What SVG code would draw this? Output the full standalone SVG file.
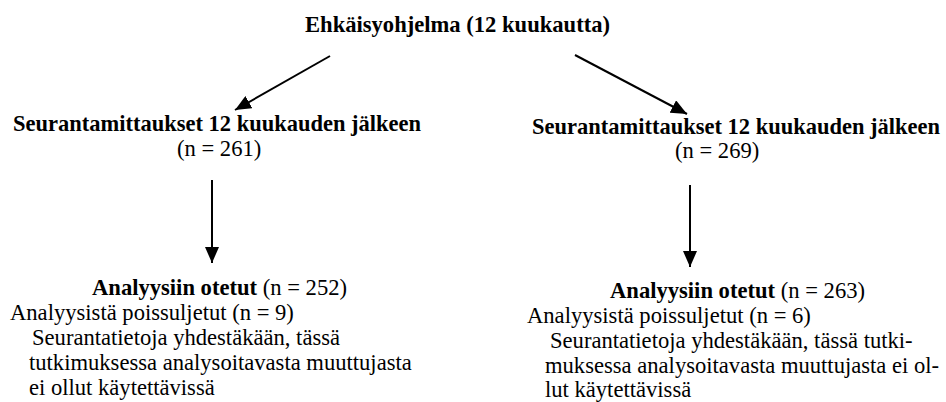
<svg xmlns="http://www.w3.org/2000/svg" width="946" height="402" viewBox="0 0 946 402" font-family="Liberation Serif, DejaVu Serif, serif">
  <style>
    text { font-family: 'Liberation Serif', 'DejaVu Serif', serif; font-size: 22.6px; fill: #000; }
    .b { font-weight: bold; }
    .conn line { stroke: #000; stroke-width: 2; fill: none; marker-end: url(#ah); }
  </style>
  <defs>
    <marker id="ah" markerUnits="userSpaceOnUse" markerWidth="16" markerHeight="14" refX="16" refY="7" orient="auto">
      <path d="M0,0 L16,7 L0,14 Z" fill="#000"/>
    </marker>
  </defs>
  <rect width="946" height="402" fill="#fff"/>

  <g id="root">
    <text class="b" x="305" y="32" textLength="305" lengthAdjust="spacingAndGlyphs">Ehkäisyohjelma (12 kuukautta)</text>
  </g>

  <g id="followup-left">
    <text class="b" x="13" y="131" textLength="408" lengthAdjust="spacingAndGlyphs">Seurantamittaukset 12 kuukauden jälkeen</text>
    <text x="177" y="156">(n = 261)</text>
  </g>

  <g id="followup-right">
    <text class="b" x="532" y="134" textLength="408" lengthAdjust="spacingAndGlyphs">Seurantamittaukset 12 kuukauden jälkeen</text>
    <text x="675" y="158">(n = 269)</text>
  </g>

  <g id="analysis-left">
    <text x="92" y="295"><tspan class="b">Analyysiin otetut</tspan> (n = 252)</text>
    <text x="10" y="320">Analyysistä poissuljetut (n = 9)</text>
    <text x="32" y="345">Seurantatietoja yhdestäkään, tässä</text>
    <text x="29" y="370">tutkimuksessa analysoitavasta muuttujasta</text>
    <text x="29" y="395">ei ollut käytettävissä</text>
  </g>

  <g id="analysis-right">
    <text x="610" y="298"><tspan class="b">Analyysiin otetut</tspan> (n = 263)</text>
    <text x="527" y="323">Analyysistä poissuljetut (n = 6)</text>
    <text x="550" y="348">Seurantatietoja yhdestäkään, tässä tutki-</text>
    <text x="545" y="373">muksessa analysoitavasta muuttujasta ei ol-</text>
    <text x="545" y="397">lut käytettävissä</text>
  </g>

  <g id="connectors" class="conn">
    <line x1="330" y1="56" x2="235" y2="110"/>
    <line x1="575" y1="55" x2="687" y2="114"/>
    <line x1="212" y1="180" x2="212" y2="263"/>
    <line x1="690" y1="185" x2="690" y2="267"/>
  </g>
</svg>
